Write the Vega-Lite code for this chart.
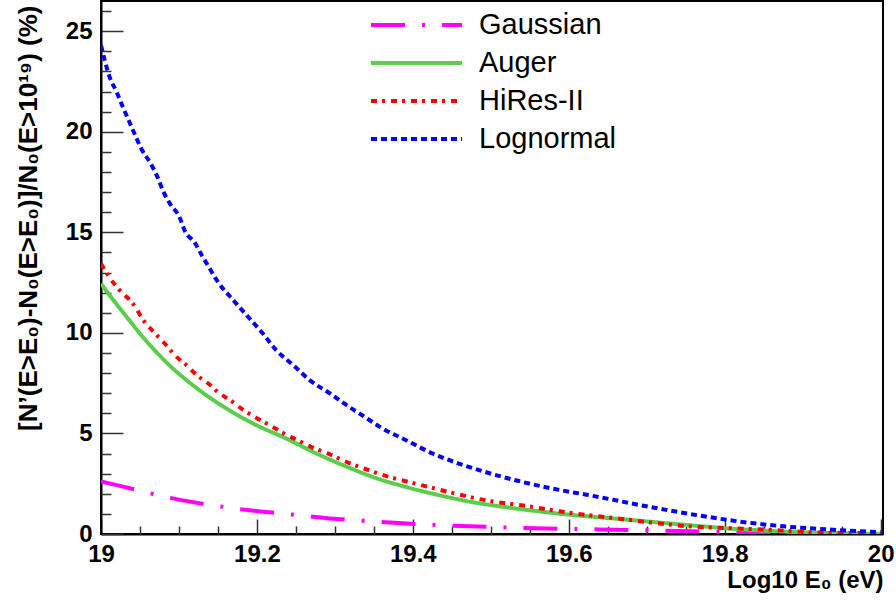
{
  "$schema": "https://vega.github.io/schema/vega-lite/v6.json",
  "autosize": "none",
  "width": 782,
  "height": 533,
  "padding": {"left": 101, "top": 1, "right": 13, "bottom": 69},
  "background": "white",
  "config": {
    "view": {"stroke": "black", "strokeWidth": 2},
    "font": "Liberation Sans"
  },
  "data": {"values": [
    {"series": "Gaussian", "x": 19.0, "y": 2.61},
    {"series": "Gaussian", "x": 19.031, "y": 2.33},
    {"series": "Gaussian", "x": 19.088, "y": 1.80},
    {"series": "Gaussian", "x": 19.170, "y": 1.28},
    {"series": "Gaussian", "x": 19.247, "y": 0.96},
    {"series": "Gaussian", "x": 19.315, "y": 0.71},
    {"series": "Gaussian", "x": 19.332, "y": 0.67},
    {"series": "Gaussian", "x": 19.418, "y": 0.47},
    {"series": "Gaussian", "x": 19.507, "y": 0.34},
    {"series": "Gaussian", "x": 19.593, "y": 0.26},
    {"series": "Gaussian", "x": 19.682, "y": 0.20},
    {"series": "Gaussian", "x": 19.772, "y": 0.12},
    {"series": "Gaussian", "x": 19.853, "y": 0.05},
    {"series": "Gaussian", "x": 19.94, "y": 0.01},
    {"series": "Gaussian", "x": 20.0, "y": 0.0},
    {"series": "Auger", "x": 19.0, "y": 12.45},
    {"series": "Auger", "x": 19.016, "y": 11.62},
    {"series": "Auger", "x": 19.033, "y": 10.79},
    {"series": "Auger", "x": 19.050, "y": 9.96},
    {"series": "Auger", "x": 19.069, "y": 9.13},
    {"series": "Auger", "x": 19.088, "y": 8.38},
    {"series": "Auger", "x": 19.110, "y": 7.64},
    {"series": "Auger", "x": 19.1355, "y": 6.89},
    {"series": "Auger", "x": 19.165, "y": 6.14},
    {"series": "Auger", "x": 19.200, "y": 5.40},
    {"series": "Auger", "x": 19.238, "y": 4.74},
    {"series": "Auger", "x": 19.277, "y": 3.99},
    {"series": "Auger", "x": 19.318, "y": 3.30},
    {"series": "Auger", "x": 19.349, "y": 2.83},
    {"series": "Auger", "x": 19.392, "y": 2.33},
    {"series": "Auger", "x": 19.435, "y": 1.92},
    {"series": "Auger", "x": 19.477, "y": 1.58},
    {"series": "Auger", "x": 19.520, "y": 1.33},
    {"series": "Auger", "x": 19.563, "y": 1.12},
    {"series": "Auger", "x": 19.606, "y": 0.94},
    {"series": "Auger", "x": 19.661, "y": 0.76},
    {"series": "Auger", "x": 19.725, "y": 0.54},
    {"series": "Auger", "x": 19.811, "y": 0.26},
    {"series": "Auger", "x": 19.896, "y": 0.09},
    {"series": "Auger", "x": 20.0, "y": 0.01},
    {"series": "HiRes-II", "x": 19.0, "y": 13.44},
    {"series": "HiRes-II", "x": 19.009, "y": 12.86},
    {"series": "HiRes-II", "x": 19.022, "y": 12.20},
    {"series": "HiRes-II", "x": 19.041, "y": 11.45},
    {"series": "HiRes-II", "x": 19.056, "y": 10.54},
    {"series": "HiRes-II", "x": 19.069, "y": 9.99},
    {"series": "HiRes-II", "x": 19.082, "y": 9.46},
    {"series": "HiRes-II", "x": 19.095, "y": 8.88},
    {"series": "HiRes-II", "x": 19.110, "y": 8.38},
    {"series": "HiRes-II", "x": 19.123, "y": 7.89},
    {"series": "HiRes-II", "x": 19.138, "y": 7.47},
    {"series": "HiRes-II", "x": 19.150, "y": 7.05},
    {"series": "HiRes-II", "x": 19.168, "y": 6.59},
    {"series": "HiRes-II", "x": 19.182, "y": 6.18},
    {"series": "HiRes-II", "x": 19.200, "y": 5.76},
    {"series": "HiRes-II", "x": 19.217, "y": 5.40},
    {"series": "HiRes-II", "x": 19.234, "y": 5.01},
    {"series": "HiRes-II", "x": 19.253, "y": 4.65},
    {"series": "HiRes-II", "x": 19.270, "y": 4.32},
    {"series": "HiRes-II", "x": 19.290, "y": 4.02},
    {"series": "HiRes-II", "x": 19.311, "y": 3.65},
    {"series": "HiRes-II", "x": 19.347, "y": 3.12},
    {"series": "HiRes-II", "x": 19.366, "y": 2.88},
    {"series": "HiRes-II", "x": 19.409, "y": 2.45},
    {"series": "HiRes-II", "x": 19.452, "y": 2.03},
    {"series": "HiRes-II", "x": 19.494, "y": 1.67},
    {"series": "HiRes-II", "x": 19.541, "y": 1.42},
    {"series": "HiRes-II", "x": 19.588, "y": 1.13},
    {"series": "HiRes-II", "x": 19.635, "y": 0.89},
    {"series": "HiRes-II", "x": 19.659, "y": 0.79},
    {"series": "HiRes-II", "x": 19.706, "y": 0.57},
    {"series": "HiRes-II", "x": 19.757, "y": 0.37},
    {"series": "HiRes-II", "x": 19.806, "y": 0.29},
    {"series": "HiRes-II", "x": 19.858, "y": 0.21},
    {"series": "HiRes-II", "x": 19.909, "y": 0.09},
    {"series": "HiRes-II", "x": 19.982, "y": 0.04},
    {"series": "Lognormal", "x": 19.0, "y": 24.3},
    {"series": "Lognormal", "x": 19.011, "y": 22.73},
    {"series": "Lognormal", "x": 19.020, "y": 21.98},
    {"series": "Lognormal", "x": 19.028, "y": 21.23},
    {"series": "Lognormal", "x": 19.036, "y": 20.52},
    {"series": "Lognormal", "x": 19.044, "y": 19.81},
    {"series": "Lognormal", "x": 19.052, "y": 19.13},
    {"series": "Lognormal", "x": 19.063, "y": 18.47},
    {"series": "Lognormal", "x": 19.072, "y": 17.79},
    {"series": "Lognormal", "x": 19.080, "y": 17.02},
    {"series": "Lognormal", "x": 19.089, "y": 16.39},
    {"series": "Lognormal", "x": 19.100, "y": 15.81},
    {"series": "Lognormal", "x": 19.108, "y": 15.03},
    {"series": "Lognormal", "x": 19.120, "y": 14.50},
    {"series": "Lognormal", "x": 19.130, "y": 13.81},
    {"series": "Lognormal", "x": 19.140, "y": 13.16},
    {"series": "Lognormal", "x": 19.150, "y": 12.53},
    {"series": "Lognormal", "x": 19.168, "y": 11.70},
    {"series": "Lognormal", "x": 19.187, "y": 10.87},
    {"series": "Lognormal", "x": 19.206, "y": 10.04},
    {"series": "Lognormal", "x": 19.225, "y": 9.13},
    {"series": "Lognormal", "x": 19.247, "y": 8.38},
    {"series": "Lognormal", "x": 19.268, "y": 7.64},
    {"series": "Lognormal", "x": 19.294, "y": 6.98},
    {"series": "Lognormal", "x": 19.317, "y": 6.35},
    {"series": "Lognormal", "x": 19.332, "y": 5.98},
    {"series": "Lognormal", "x": 19.362, "y": 5.23},
    {"series": "Lognormal", "x": 19.392, "y": 4.65},
    {"series": "Lognormal", "x": 19.426, "y": 3.99},
    {"series": "Lognormal", "x": 19.460, "y": 3.49},
    {"series": "Lognormal", "x": 19.494, "y": 3.07},
    {"series": "Lognormal", "x": 19.537, "y": 2.62},
    {"series": "Lognormal", "x": 19.580, "y": 2.25},
    {"series": "Lognormal", "x": 19.623, "y": 1.95},
    {"series": "Lognormal", "x": 19.657, "y": 1.70},
    {"series": "Lognormal", "x": 19.680, "y": 1.52},
    {"series": "Lognormal", "x": 19.725, "y": 1.20},
    {"series": "Lognormal", "x": 19.772, "y": 0.89},
    {"series": "Lognormal", "x": 19.819, "y": 0.62},
    {"series": "Lognormal", "x": 19.879, "y": 0.37},
    {"series": "Lognormal", "x": 19.939, "y": 0.21},
    {"series": "Lognormal", "x": 20.0, "y": 0.09}
  ]},
  "layer": [
    {
      "mark": {"type": "line", "strokeWidth": 4, "strokeCap": "butt", "clip": true, "interpolate": "monotone"},
      "encoding": {
        "x": {
          "field": "x", "type": "quantitative",
          "scale": {"domain": [19, 20.003], "nice": false, "zero": false},
          "axis": {
            "values": [19, 19.2, 19.4, 19.6, 19.8, 20],
            "format": "~r",
            "grid": false,
            "domainColor": "black", "domainWidth": 2,
            "tickSize": -15, "tickColor": "#333", "tickWidth": 1.5,
            "labelPadding": 23,
            "labelFont": "Liberation Sans", "labelFontWeight": "bold", "labelFontSize": 24, "labelColor": "black",
            "labelFlush": false, "labelOverlap": false,
            "title": "Log10 E₀ (eV)",
            "titleFont": "Liberation Sans", "titleFontWeight": "bold", "titleFontSize": 24, "titleColor": "black",
            "titleX": 782, "titleY": 53, "titleAlign": "right", "titleBaseline": "alphabetic", "titleAnchor": "end"
          }
        },
        "y": {
          "field": "y", "type": "quantitative",
          "scale": {"domain": [0, 26.5], "nice": false},
          "axis": {
            "values": [0, 5, 10, 15, 20, 25],
            "grid": false,
            "domainColor": "black", "domainWidth": 2,
            "tickSize": -22, "tickColor": "#333", "tickWidth": 1.5,
            "labelPadding": 31,
            "labelFont": "Liberation Sans", "labelFontWeight": "bold", "labelFontSize": 24, "labelColor": "black",
            "labelFlush": false, "labelOverlap": false,
            "title": "[N’(E>E₀)-N₀(E>E₀)]/N₀(E>10¹⁹)  (%)",
            "titleFont": "Liberation Sans", "titleFontWeight": "bold", "titleFontSize": 26, "titleColor": "black",
            "titleX": -65, "titleY": 4, "titleAngle": 270, "titleAlign": "right", "titleBaseline": "alphabetic", "titleAnchor": "end"
          }
        },
        "color": {
          "field": "series", "type": "nominal",
          "scale": {"domain": ["Gaussian", "Auger", "HiRes-II", "Lognormal"], "range": ["#ff00ff", "#5ccc4c", "#ff0000", "#0000ff"]},
          "legend": {
            "orient": "none", "legendX": 268, "legendY": 5,
            "title": null,
            "symbolType": "stroke", "symbolSize": 8281, "symbolStrokeWidth": 4,
            "clipHeight": 38, "rowPadding": 0, "padding": 0,
            "labelFont": "Liberation Sans", "labelFontSize": 29, "labelColor": "black", "labelOffset": 15,
            "labelLimit": 400
          }
        },
        "strokeDash": {
          "field": "series", "type": "nominal",
          "scale": {"domain": ["Gaussian", "Auger", "HiRes-II", "Lognormal"], "range": [[34, 17, 3, 17], [1, 0], [6, 5, 3, 6], [6, 4]]},
          "legend": null
        }
      }
    },
    {
      "mark": {"type": "line", "opacity": 0},
      "encoding": {
        "x": {
          "field": "x", "type": "quantitative",
          "axis": {
            "orient": "bottom",
            "values": [19.05, 19.1, 19.15, 19.25, 19.3, 19.35, 19.45, 19.5, 19.55, 19.65, 19.7, 19.75, 19.85, 19.9, 19.95],
            "labels": false, "domain": false, "grid": false, "title": null,
            "tickSize": -8, "tickColor": "#333", "tickWidth": 1.5
          }
        },
        "y": {
          "field": "y", "type": "quantitative",
          "axis": {
            "orient": "left",
            "values": [1, 2, 3, 4, 6, 7, 8, 9, 11, 12, 13, 14, 16, 17, 18, 19, 21, 22, 23, 24, 26],
            "labels": false, "domain": false, "grid": false, "title": null,
            "tickSize": -10, "tickColor": "#333", "tickWidth": 1.5
          }
        },
        "detail": {"field": "series"}
      }
    }
  ],
  "resolve": {"axis": {"x": "independent", "y": "independent"}}
}
